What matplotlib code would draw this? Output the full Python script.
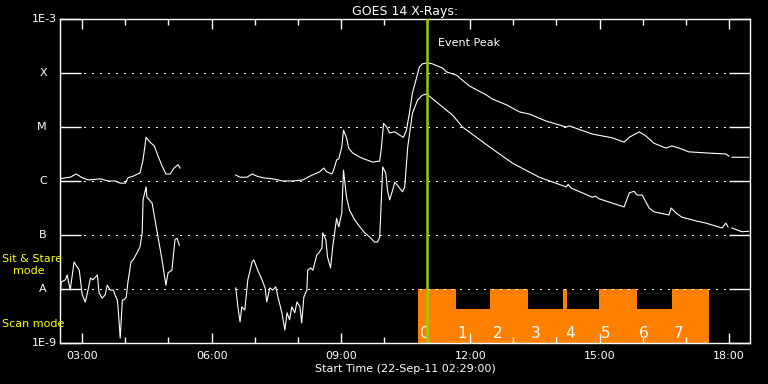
"""GOES 14 X-ray flux, 22-Sep-2011, with IRIS-style observing mode bars."""
import numpy as np
import matplotlib
matplotlib.use("Agg")
import matplotlib.pyplot as plt

# time in decimal hours (UT), log10 of flux in W/m^2
long_t = [2.49, 2.61, 2.72, 2.86, 3.00, 3.14, 3.42, 3.60, 3.76, 3.88, 4.00, 4.06,
          4.18, 4.34, 4.41, 4.48, 4.57, 4.67, 4.76, 4.85, 4.94, 5.04, 5.13, 5.22,
          5.27, 5.30,
          6.56, 6.66, 6.82, 6.94, 7.05, 7.19, 7.42, 7.65, 7.88, 8.12, 8.23, 8.39,
          8.51, 8.60, 8.67, 8.79, 8.83, 8.90, 8.95, 9.02, 9.06, 9.13, 9.18, 9.27,
          9.44, 9.60, 9.74, 9.90, 9.94, 9.99, 10.06, 10.13, 10.25, 10.36, 10.45,
          10.52, 10.59, 10.66, 10.75, 10.82, 10.89, 11.01, 11.12, 11.36, 11.45,
          11.68, 11.98, 12.38, 12.51, 12.84, 13.14, 13.37, 13.76, 14.23, 14.30,
          14.83, 15.29, 15.57, 15.69, 15.92, 16.08, 16.26, 16.54, 16.68, 16.84,
          17.07, 17.47, 17.93, 18.00, 18.03, 18.07, 18.46]
long_logf = [-5.96, -5.94, -5.93, -5.87, -5.94, -5.98, -5.96, -6.00, -6.00, -6.04, -6.04, -5.94,
             -5.91, -5.85, -5.61, -5.19, -5.28, -5.35, -5.54, -5.72, -5.87, -5.87, -5.76, -5.70,
             -5.76, np.nan,
             -5.89, -5.93, -5.93, -5.87, -5.91, -5.94, -5.96, -6.00, -6.00, -5.98, -5.93, -5.87,
             -5.83, -5.76, -5.83, -5.87, -5.80, -5.61, -5.59, -5.37, -5.06, -5.20, -5.39, -5.48,
             -5.56, -5.61, -5.65, -5.63, -5.37, -4.93, -5.00, -5.11, -5.09, -5.15, -5.19,
             -5.06, -4.74, -4.37, -4.10, -3.89, -3.83, -3.81, -3.83, -3.91, -3.98,
             -4.04, -4.24, -4.41, -4.48, -4.59, -4.72, -4.76, -4.89, -5.00, -4.98,
             -5.13, -5.20, -5.28, -5.19, -5.09, -5.17, -5.30, -5.39, -5.35, -5.39,
             -5.46, -5.48, -5.50, -5.54, np.nan, -5.56, -5.56]

short_t = [2.49, 2.51, 2.61, 2.65, 2.72, 2.81, 2.88, 2.93, 3.00, 3.07, 3.12, 3.19,
           3.25, 3.35, 3.39, 3.46, 3.53, 3.58, 3.65, 3.72, 3.76, 3.81, 3.83, 3.88,
           3.93, 3.97, 4.02, 4.06, 4.13, 4.18, 4.27, 4.34, 4.39, 4.41, 4.48, 4.50,
           4.62, 4.74, 4.85, 4.94, 4.99, 5.08, 5.15, 5.20, 5.25, 5.30,
           6.56, 6.61, 6.66, 6.70, 6.77, 6.84, 6.94, 6.98, 7.07, 7.17, 7.24, 7.28,
           7.35, 7.42, 7.49, 7.54, 7.63, 7.70, 7.75, 7.81, 7.86, 7.93, 7.98, 8.05,
           8.09, 8.14, 8.21, 8.23, 8.30, 8.35, 8.44, 8.49, 8.56, 8.58, 8.65, 8.69,
           8.76, 8.81, 8.90, 8.95, 9.02, 9.06, 9.13, 9.20, 9.32, 9.44, 9.55, 9.67,
           9.78, 9.85, 9.90, 9.94, 9.97, 10.04, 10.08, 10.13, 10.20, 10.25, 10.34,
           10.43, 10.48, 10.55, 10.66, 10.78, 10.89, 10.99, 11.22, 11.59, 11.82,
           12.38, 12.98, 13.60, 14.23, 14.27, 14.34, 14.83, 14.90, 14.99, 15.57,
           15.69, 15.80, 15.87, 15.99, 16.15, 16.26, 16.61, 16.66, 16.77, 16.91,
           17.24, 17.47, 17.84, 17.93, 17.98, 18.03, 18.07, 18.30, 18.46]
short_logf = [-8.17, -7.87, -7.83, -7.74, -8.02, -7.50, -7.59, -7.65, -8.11, -8.24, -8.07, -7.80,
              -7.83, -7.74, -8.07, -8.17, -8.11, -7.93, -8.02, -8.02, -8.11, -8.20, -8.33, -8.91,
              -8.20, -8.20, -8.15, -7.87, -7.50, -7.46, -7.33, -7.22, -6.96, -6.35, -6.11, -6.30,
              -6.41, -6.96, -7.46, -7.93, -7.70, -7.65, -7.09, -7.06, -7.19, np.nan,
              -7.98, -8.33, -8.61, -8.33, -8.39, -7.83, -7.50, -7.46, -7.65, -7.83, -7.98, -8.24,
              -7.98, -8.02, -7.96, -8.15, -8.44, -8.76, -8.44, -8.57, -8.33, -8.44, -8.24, -8.33,
              -8.63, -8.15, -8.02, -7.65, -7.61, -7.65, -7.37, -7.33, -7.24, -6.96, -7.09, -7.41,
              -7.61, -7.22, -6.69, -6.85, -6.59, -5.80, -6.30, -6.54, -6.72, -6.85, -6.96, -7.04,
              -7.13, -7.13, -7.04, -6.30, -5.74, -5.85, -6.17, -6.35, -6.17, -6.02, -6.11,
              -6.20, -6.11, -5.37, -4.74, -4.50, -4.41, -4.39, -4.54, -4.78, -5.00,
              -5.33, -5.67, -5.93, -6.11, -6.06, -6.13, -6.30, -6.28, -6.33, -6.48,
              -6.22, -6.19, -6.26, -6.26, -6.50, -6.57, -6.63, -6.50, -6.59, -6.67,
              -6.74, -6.78, -6.87, -6.78, -6.85, np.nan, -6.87, -6.94, -6.93]

# observing mode: 1 = sit & stare (high), 0 = scan (low)
mode_edges = [10.78, 11.66, 12.47, 13.35, 14.16, 14.25, 14.99, 15.87, 16.68, 17.54]
mode_state = [1, 0, 1, 0, 1, 0, 1, 0, 1]
mode_starts = [10.78, 11.66, 12.47, 13.35, 14.16, 14.99, 15.87, 16.68]
mode_labels = ["0", "1", "2", "3", "4", "5", "6", "7"]

peak_time = 11.0
t_start, t_end = 2.4833, 18.49

level_vals = [1e-9, 1e-8, 1e-7, 1e-6, 1e-5, 1e-4, 1e-3]
level_labels = ["1E-9", "A", "B", "C", "M", "X", "1E-3"]

fig = plt.figure(figsize=(7.68, 3.84), dpi=100, facecolor="black")
ax = fig.add_axes([60 / 768, 41 / 384, 690 / 768, 324 / 384], facecolor="black")
ax.set_yscale("log")
ax.set_xlim(t_start, t_end)
ax.set_ylim(1e-9, 1e-3)

# mode bars
hi, lo = 1e-8, 4.2e-9
for i, st in enumerate(mode_state):
    ax.fill_between([mode_edges[i], mode_edges[i + 1]], 1e-9, hi if st else lo,
                    color="#ff8000", lw=0, zorder=1)
for x, s in zip(mode_starts, mode_labels):
    ax.text(x + 0.05, 10 ** -8.82, s, color="white", fontsize=11, ha="left",
            va="center", zorder=3)

# dotted levels with solid stubs
for v in level_vals[1:-1]:
    ax.plot([t_start, t_end], [v, v], color="white", lw=1,
            ls=(0, (1, 5)), antialiased=False, zorder=2)
ax.set_yticks(level_vals)
ax.set_yticklabels([])
ax.yaxis.set_minor_locator(matplotlib.ticker.NullLocator())
ax.tick_params(axis="y", which="major", length=15, width=1, color="white",
               direction="in", left=True, right=True)
trans = matplotlib.transforms.blended_transform_factory(ax.transAxes, ax.transData)
for v, lab in zip(level_vals, level_labels):
    xoff = -0.005 if lab.startswith("1E") else -0.019
    ax.text(xoff, v, lab, transform=trans, color="white", fontsize=8,
            ha="right", va="center")

# curves
ax.plot(long_t, 10 ** np.array(long_logf), color="white", lw=0.8, zorder=4)
ax.plot(short_t, 10 ** np.array(short_logf), color="white", lw=0.8, zorder=4)

# event peak
ax.axvline(peak_time, color="#99cc00", lw=1.8, zorder=5)
ax.text(peak_time + 0.25, 10 ** -3.44, "Event Peak", color="white",
        fontsize=8, ha="left", va="center")

# x axis
ax.set_xticks([3, 6, 9, 12, 15, 18])
ax.set_xticklabels(["03:00", "06:00", "09:00", "12:00", "15:00", "18:00"])
ax.set_xticks(np.arange(3, 19, 1), minor=True)
ax.tick_params(axis="x", which="major", length=7, width=1, color="white",
               direction="in", top=True, bottom=True, labelcolor="white",
               labelsize=8, pad=6)
ax.tick_params(axis="x", which="minor", length=4, width=1, color="white",
               direction="in", top=True, bottom=True)
ax.set_xlabel("Start Time (22-Sep-11 02:29:00)", color="white", fontsize=8,
              labelpad=2)
ax.set_title("GOES 14 X-Rays:", color="white", fontsize=9, pad=3)
for sp in ax.spines.values():
    sp.set_color("white")
    sp.set_linewidth(1)

# mode labels on the left
fig.text(2 / 768, 1 - 259 / 384, "Sit & Stare", color="#ffff00", fontsize=8,
         ha="left", va="center")
fig.text(13 / 768, 1 - 271 / 384, "mode", color="#ffff00", fontsize=8,
         ha="left", va="center")
fig.text(2 / 768, 1 - 324 / 384, "Scan mode", color="#ffff00", fontsize=8,
         ha="left", va="center")

fig.savefig("out.png", dpi=100, facecolor="black")
